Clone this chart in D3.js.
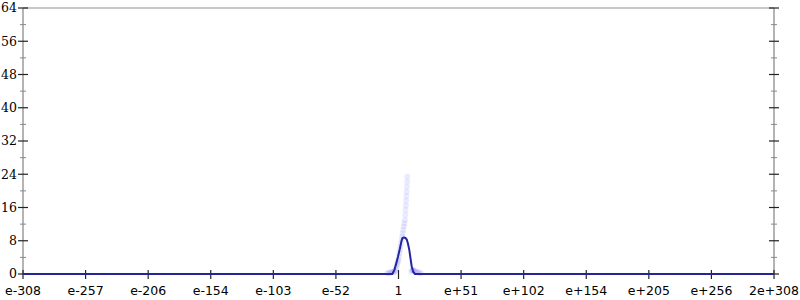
<!DOCTYPE html>
<html>
<head>
<meta charset="utf-8">
<script src="https://cdn.jsdelivr.net/npm/d3@7"></script>
<style>
  body { margin: 0; background: #fff; }
</style>
</head>
<body>
<svg id="chart" width="800" height="300"></svg>
<script>
// x is the binary exponent of a double, y is the count
const xLabels = ['e-308', 'e-257', 'e-206', 'e-154', 'e-103', 'e-52', '1', 'e+51', 'e+102', 'e+154', 'e+205', 'e+256', '2e+308'];
const xTicks = [-1022, -851.5, -681, -510.5, -340, -169.5, 1, 171.5, 342, 512.5, 683, 853.5, 1024];
const yTicks = [0, 8, 16, 24, 32, 40, 48, 56, 64];
const yMinor = [4, 12, 20, 28, 36, 44, 52, 60];

// main histogram line
const lineExp = [-1022, -16, -10, -5, 0, 5, 9, 12, 16, 20, 24, 27, 30.4, 34, 37, 41.3, 46, 1024];
const lineVal = [0, 0, 1, 2.6, 4.3, 6.2, 7.9, 8.7, 8.8, 8.7, 8.2, 7.2, 5.8, 3.6, 1.8, 0.5, 0, 0];

// faint sample points
const dotExp = [-30, -26, -22, -19, -16, -13, -10, -8.5, -7, -5, -3.5, -2, -0.5, 0.4, 2, 3.5, 5, 6.5, 8, 9.5, 11, 12.5, 14, 15.5, 17, 18.7, 19.5, 20.3, 21, 21.8, 22.5, 23.2, 24, 24.6, 25.2,
                36, 38, 40, 42, 44, 47, 50, 54, 58, 62];
const dotVal = [0.2, 0.3, 0.3, 0.4, 0.5, 0.5, 0.6, 0.6, 1, 1.6, 2.1, 2.6, 3, 3.4, 4.2, 5, 5.8, 6.6, 7.4, 8.2, 9, 9.8, 10.6, 11.4, 12.2, 13, 14.2, 15.4, 16.5, 17.6, 18.7, 19.8, 21, 22.2, 23.4,
                0.6, 0.9, 1, 0.8, 0.7, 0.6, 0.5, 0.4, 0.3, 0.2];

const margin = {top: 8, right: 26, bottom: 26, left: 23}
    , width = 800 - margin.left - margin.right
    , height = 300 - margin.top - margin.bottom;

const x = d3.scaleLinear().domain([-1022, 1024]).range([0, width]);
const y = d3.scaleLinear().domain([0, 64]).range([height, 0]);

const svg = d3.select('#chart')
  .append('g')
    .attr('transform', `translate(${margin.left}, ${margin.top})`);

// frame
svg.append('line').attr('x1', 0).attr('x2', width).attr('y1', 0).attr('y2', 0)
    .attr('stroke', '#b4b4b4').attr('stroke-width', 1.5);
[0, width].forEach(px => {
  svg.append('line').attr('x1', px).attr('x2', px).attr('y1', 0).attr('y2', height)
      .attr('stroke', '#b4b4b4').attr('stroke-width', 2);
});

// y ticks on both sides
[0, width].forEach(px => {
  svg.selectAll(null).data(yMinor).enter().append('line')
      .attr('x1', px - 3).attr('x2', px + 3)
      .attr('y1', d => y(d)).attr('y2', d => y(d))
      .attr('stroke', '#888').attr('stroke-width', 1);
  svg.selectAll(null).data(yTicks).enter().append('line')
      .attr('x1', px - 5).attr('x2', px + 5)
      .attr('y1', d => y(d)).attr('y2', d => y(d))
      .attr('stroke', '#222').attr('stroke-width', 1.2);
});

svg.selectAll('.ylab').data(yTicks).enter().append('text')
    .attr('class', 'ylab')
    .attr('x', -6)
    .attr('y', d => y(d))
    .attr('dy', '0.35em')
    .attr('text-anchor', 'end')
    .attr('font-family', '"DejaVu Serif", "Liberation Serif", serif')
    .attr('font-size', '12.5px')
    .text(d => d);

// x ticks
svg.selectAll('.xtick').data(xTicks).enter().append('line')
    .attr('x1', d => x(d)).attr('x2', d => x(d))
    .attr('y1', height - 4).attr('y2', height + 5)
    .attr('stroke', '#222').attr('stroke-width', 1.2);

svg.selectAll('.xlab').data(xTicks).enter().append('text')
    .attr('class', 'xlab')
    .attr('x', d => x(d))
    .attr('y', height + 21)
    .attr('text-anchor', 'middle')
    .attr('font-family', '"DejaVu Sans", sans-serif')
    .attr('font-size', '12.5px')
    .text((d, i) => xLabels[i]);

// faint points
svg.selectAll('.dot').data(dotExp).enter().append('circle')
    .attr('cx', d => x(d))
    .attr('cy', (d, i) => y(dotVal[i]))
    .attr('r', 3)
    .attr('fill', 'rgba(110, 110, 255, 0.14)');

// histogram line
const line = d3.line()
    .x(d => x(d))
    .y((d, i) => y(lineVal[i]));

svg.append('path')
    .datum(lineExp)
    .attr('d', line)
    .attr('fill', 'none')
    .attr('stroke', '#25259a')
    .attr('stroke-width', 2)
    .attr('stroke-linejoin', 'round');
</script>
</body>
</html>
